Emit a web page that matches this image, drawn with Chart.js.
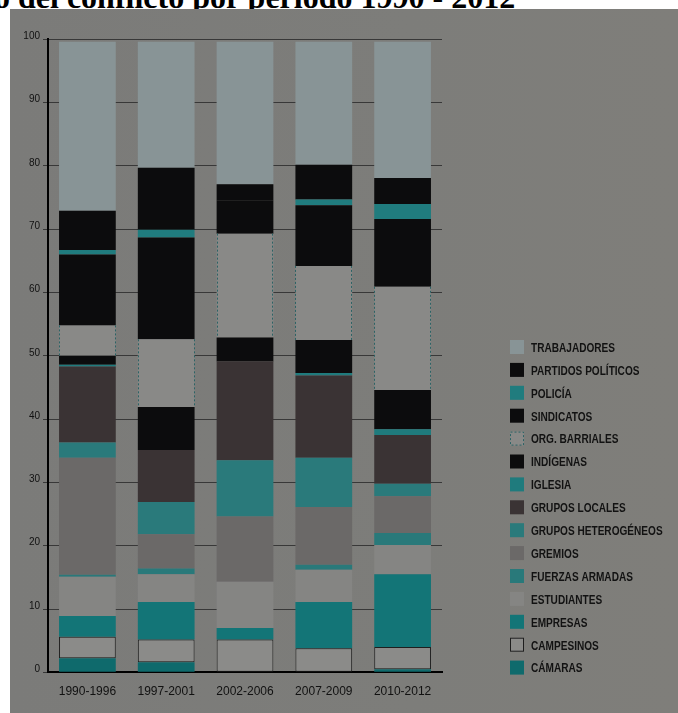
<!DOCTYPE html>
<html lang="es">
<head>
<meta charset="utf-8">
<title>Actores del conflicto por período 1990 - 2012</title>
<script src="https://cdn.jsdelivr.net/npm/chart.js@4/dist/chart.umd.min.js"></script>
<style>
  html, body { margin: 0; padding: 0; background: #ffffff; }
  body { width: 678px; height: 713px; position: relative; overflow: hidden; }
  .titulo {
    position: absolute; left: -6px; top: -19px;
    font: bold 32px/32px "Liberation Serif", "Times New Roman", serif;
    color: #000; white-space: nowrap;
  }
  .lamina {
    position: absolute; left: 10px; top: 9px; right: 0; bottom: 0;
    background: linear-gradient(90deg, #7b7b79 0%, #7d7d7a 60%, #7f7e7a 100%);
  }
  #grafico { position: absolute; left: 0; top: 0; }
</style>
</head>
<body>
<div class="titulo">o del conflicto por período 1990 - 2012</div>
<div class="lamina"></div>
<canvas id="grafico" width="678" height="713"></canvas>
<script>
// Períodos
const periodos = ['1990-1996', '1997-2001', '2002-2006', '2007-2009', '2010-2012'];

// Porcentaje de conflictos por actor (de abajo hacia arriba en cada columna)
const camaras            = [2.2, 1.6, 0.0, 0.0, 0.5];
const campesinos         = [3.4, 3.6, 5.2, 3.8, 3.5];
const empresas           = [3.3, 5.9, 1.8, 7.3, 11.5];
const estudiantes        = [6.2, 4.4, 7.3, 5.1, 4.6];
const fuerzasArmadas     = [0.3, 0.9, 0.0, 0.8, 1.9];
const gremios            = [18.5, 5.4, 10.3, 9.1, 5.8];
const gruposHeterogeneos = [2.4, 5.1, 8.9, 7.8, 2.0];
const gruposLocales      = [12.0, 8.2, 15.6, 13.0, 7.7];
const iglesia            = [0.3, 0.0, 0.0, 0.4, 0.9];
const indigenas          = [1.4, 6.8, 3.8, 5.2, 6.2];
const orgBarriales       = [4.8, 10.7, 16.4, 11.7, 16.3];
const sindicatos         = [11.2, 16.1, 5.2, 9.6, 10.7];
const policia            = [0.7, 1.2, 0.0, 0.9, 2.4];
const partidosPoliticos  = [6.2, 9.8, 2.6, 5.5, 4.1];
const trabajadores       = [26.7, 19.9, 22.5, 19.4, 21.5];

// Marcas del eje vertical
const ticksY = [0, 10, 20, 30, 40, 50, 60, 70, 80, 90, 100];

const NEGRO = '#0c0c0d';
const series = [
  { label: 'CÁMARAS',              data: camaras,            backgroundColor: '#0f6a6c' },
  { label: 'CAMPESINOS',           data: campesinos,         backgroundColor: '#8b8b89', borderColor: '#1e1e1e', borderWidth: 1, borderSkipped: false, contorno: 'solido' },
  { label: 'EMPRESAS',             data: empresas,           backgroundColor: '#137577' },
  { label: 'ESTUDIANTES',          data: estudiantes,        backgroundColor: '#858583' },
  { label: 'FUERZAS ARMADAS',      data: fuerzasArmadas,     backgroundColor: '#29797a' },
  { label: 'GREMIOS',              data: gremios,            backgroundColor: '#6b6968' },
  { label: 'GRUPOS HETEROGÉNEOS',  data: gruposHeterogeneos, backgroundColor: '#2a7a7b' },
  { label: 'GRUPOS LOCALES',       data: gruposLocales,      backgroundColor: '#3a3334' },
  { label: 'IGLESIA',              data: iglesia,            backgroundColor: '#1f7b7d' },
  { label: 'INDÍGENAS',            data: indigenas,          backgroundColor: NEGRO },
  { label: 'ORG. BARRIALES',       data: orgBarriales,       backgroundColor: '#898987', contorno: 'punteado' },
  { label: 'SINDICATOS',           data: sindicatos,         backgroundColor: NEGRO },
  { label: 'POLICÍA',              data: policia,            backgroundColor: '#207c7e' },
  { label: 'PARTIDOS POLÍTICOS',   data: partidosPoliticos,  backgroundColor: NEGRO },
  { label: 'TRABAJADORES',         data: trabajadores,       backgroundColor: '#889496' }
];

// Bordes punteados de las organizaciones barriales
const bordePunteado = {
  id: 'bordePunteado',
  afterDatasetsDraw(chart) {
    const ctx = chart.ctx;
    chart.data.datasets.forEach((ds, i) => {
      if (ds.contorno !== 'punteado') return;
      chart.getDatasetMeta(i).data.forEach(el => {
        const izq = Math.round(el.x - el.width / 2) + 0.5;
        const der = Math.round(el.x + el.width / 2) - 0.5;
        ctx.save();
        ctx.strokeStyle = '#2c6365';
        ctx.lineWidth = 1;
        ctx.setLineDash([2, 2]);
        ctx.beginPath();
        ctx.moveTo(izq, el.y); ctx.lineTo(izq, el.base);
        ctx.moveTo(der, el.y); ctx.lineTo(der, el.base);
        ctx.stroke();
        ctx.restore();
      });
    });
  }
};

// Leyenda vertical a la derecha, en orden inverso al apilado
const leyendaLateral = {
  id: 'leyendaLateral',
  afterDraw(chart, args, opts) {
    const ctx = chart.ctx;
    const ds = chart.data.datasets;
    ctx.save();
    ctx.font = 'bold 12px "Liberation Sans", Arial, sans-serif';
    ctx.textBaseline = 'middle';
    ctx.fillStyle = '#121212';
    for (let k = 0; k < ds.length; k++) {
      const d = ds[ds.length - 1 - k];
      const y0 = opts.top + k * opts.step;
      ctx.save();
      ctx.fillStyle = d.backgroundColor;
      ctx.fillRect(opts.x, y0, opts.box, opts.box);
      if (d.contorno) {
        ctx.strokeStyle = d.contorno === 'punteado' ? '#2c6365' : '#1e1e1e';
        ctx.lineWidth = 1;
        if (d.contorno === 'punteado') ctx.setLineDash([2, 2]);
        ctx.strokeRect(opts.x + 0.5, y0 + 0.5, opts.box - 1, opts.box - 1);
      }
      ctx.restore();
      ctx.save();
      ctx.translate(opts.textX, y0 + opts.box / 2 + 1.5);
      ctx.scale(0.84, 1);
      ctx.fillText(d.label, 0, 0);
      ctx.restore();
    }
    ctx.restore();
  }
};

new Chart(document.getElementById('grafico'), {
  type: 'bar',
  data: { labels: periodos, datasets: series.map(s => Object.assign({ borderWidth: 0 }, s)) },
  plugins: [bordePunteado, leyendaLateral],
  options: {
    responsive: false,
    devicePixelRatio: 1,
    animation: false,
    layout: { padding: { left: 10, top: 39.3, right: 236, bottom: 10.7 } },
    datasets: { bar: { categoryPercentage: 1, barPercentage: 0.72 } },
    plugins: {
      legend: { display: false },
      tooltip: { enabled: false },
      leyendaLateral: { x: 510, top: 340, step: 22.9, box: 14, textX: 531 }
    },
    scales: {
      x: {
        stacked: true,
        grid: { display: false, drawTicks: false },
        border: { display: true, color: '#000', width: 2 },
        ticks: { color: '#111', padding: 12, font: { family: '"Liberation Sans", Arial, sans-serif', size: 12 } },
        afterFit(scale) { scale.height = 30; }
      },
      y: {
        stacked: true,
        min: 0, max: 100,
        afterBuildTicks(scale) { scale.ticks = ticksY.map(v => ({ value: v })); },
        grid: { color: '#383838', lineWidth: 1, drawTicks: true, tickLength: 5 },
        border: { display: true, color: '#000', width: 2 },
        ticks: { color: '#111', padding: 3, labelOffset: -3, font: { family: '"Liberation Sans", Arial, sans-serif', size: 10 } },
        afterFit(scale) { scale.width = 38; }
      }
    }
  }
});
</script>
</body>
</html>
